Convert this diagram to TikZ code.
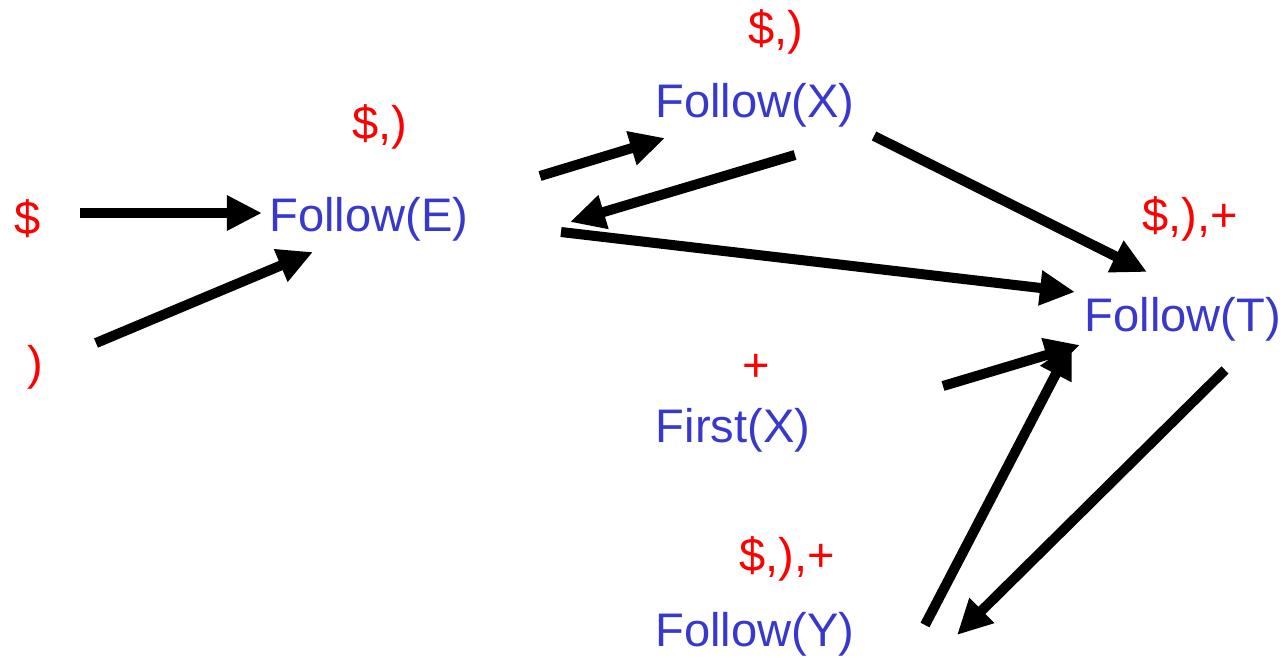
\documentclass[tikz,border=0pt]{standalone}
\usepackage{fontspec}
\setmainfont{Liberation Sans}
\usetikzlibrary{arrows.meta}
\definecolor{fblue}{RGB}{56,56,204}
\definecolor{fred}{RGB}{255,0,0}
\tikzset{
  setlbl/.style={text=fred, font=\fontsize{13.4}{15}\selectfont, inner sep=0pt},
  fnlbl/.style={text=fblue, font=\fontsize{13.4}{15}\selectfont, inner sep=0pt},
  bigarrow/.style={line width=2.85pt, -{Triangle[length=0.35cm,width=0.33cm]}}
}
\begin{document}
\begin{tikzpicture}[x=0.01cm,y=-0.01cm]
\useasboundingbox (0,0) rectangle (1287,657);
% labels
\node[setlbl] (s1) at (28,219) {\$};
\node[setlbl] (s2) at (35,367) {)};
\node[setlbl] (sE) at (380,127) {\$,)};
\node[fnlbl] (fE) at (369,219) {Follow(E)};
\node[setlbl] (sX) at (776,32) {\$,)};
\node[fnlbl] (fX) at (755,105) {Follow(X)};
\node[setlbl] (sT) at (1190,219) {\$,),+};
\node[fnlbl] (fT) at (1183,319) {Follow(T)};
\node[setlbl] (sP) at (756,368) {+};
\node[fnlbl] (fiX) at (733,430) {First(X)};
\node[setlbl] (sY) at (787,559) {\$,),+};
\node[fnlbl] (fY) at (755,634) {Follow(Y)};
% arrow end points
\coordinate (a1s) at (80,213);   \coordinate (a1e) at (262,213);
\coordinate (a2s) at (96,343);   \coordinate (a2e) at (313,252);
\coordinate (a3s) at (540,176);  \coordinate (a3e) at (665,138);
\coordinate (a4s) at (795,155);  \coordinate (a4e) at (570,222);
\coordinate (a5s) at (561,232);  \coordinate (a5e) at (1075,292);
\coordinate (a6s) at (874,136);  \coordinate (a6e) at (1147,272);
\coordinate (a7s) at (943,386);  \coordinate (a7e) at (1080,345);
\coordinate (a8s) at (925,625);  \coordinate (a8e) at (1072,343);
\coordinate (a9s) at (1225,370); \coordinate (a9e) at (957,635);
% arrows
\draw[bigarrow] (a1s) -- (a1e);
\draw[bigarrow] (a2s) -- (a2e);
\draw[bigarrow] (a3s) -- (a3e);
\draw[bigarrow] (a4s) -- (a4e);
\draw[bigarrow] (a5s) -- (a5e);
\draw[bigarrow] (a6s) -- (a6e);
\draw[bigarrow] (a7s) -- (a7e);
\draw[bigarrow] (a8s) -- (a8e);
\draw[bigarrow] (a9s) -- (a9e);
\end{tikzpicture}
\end{document}
